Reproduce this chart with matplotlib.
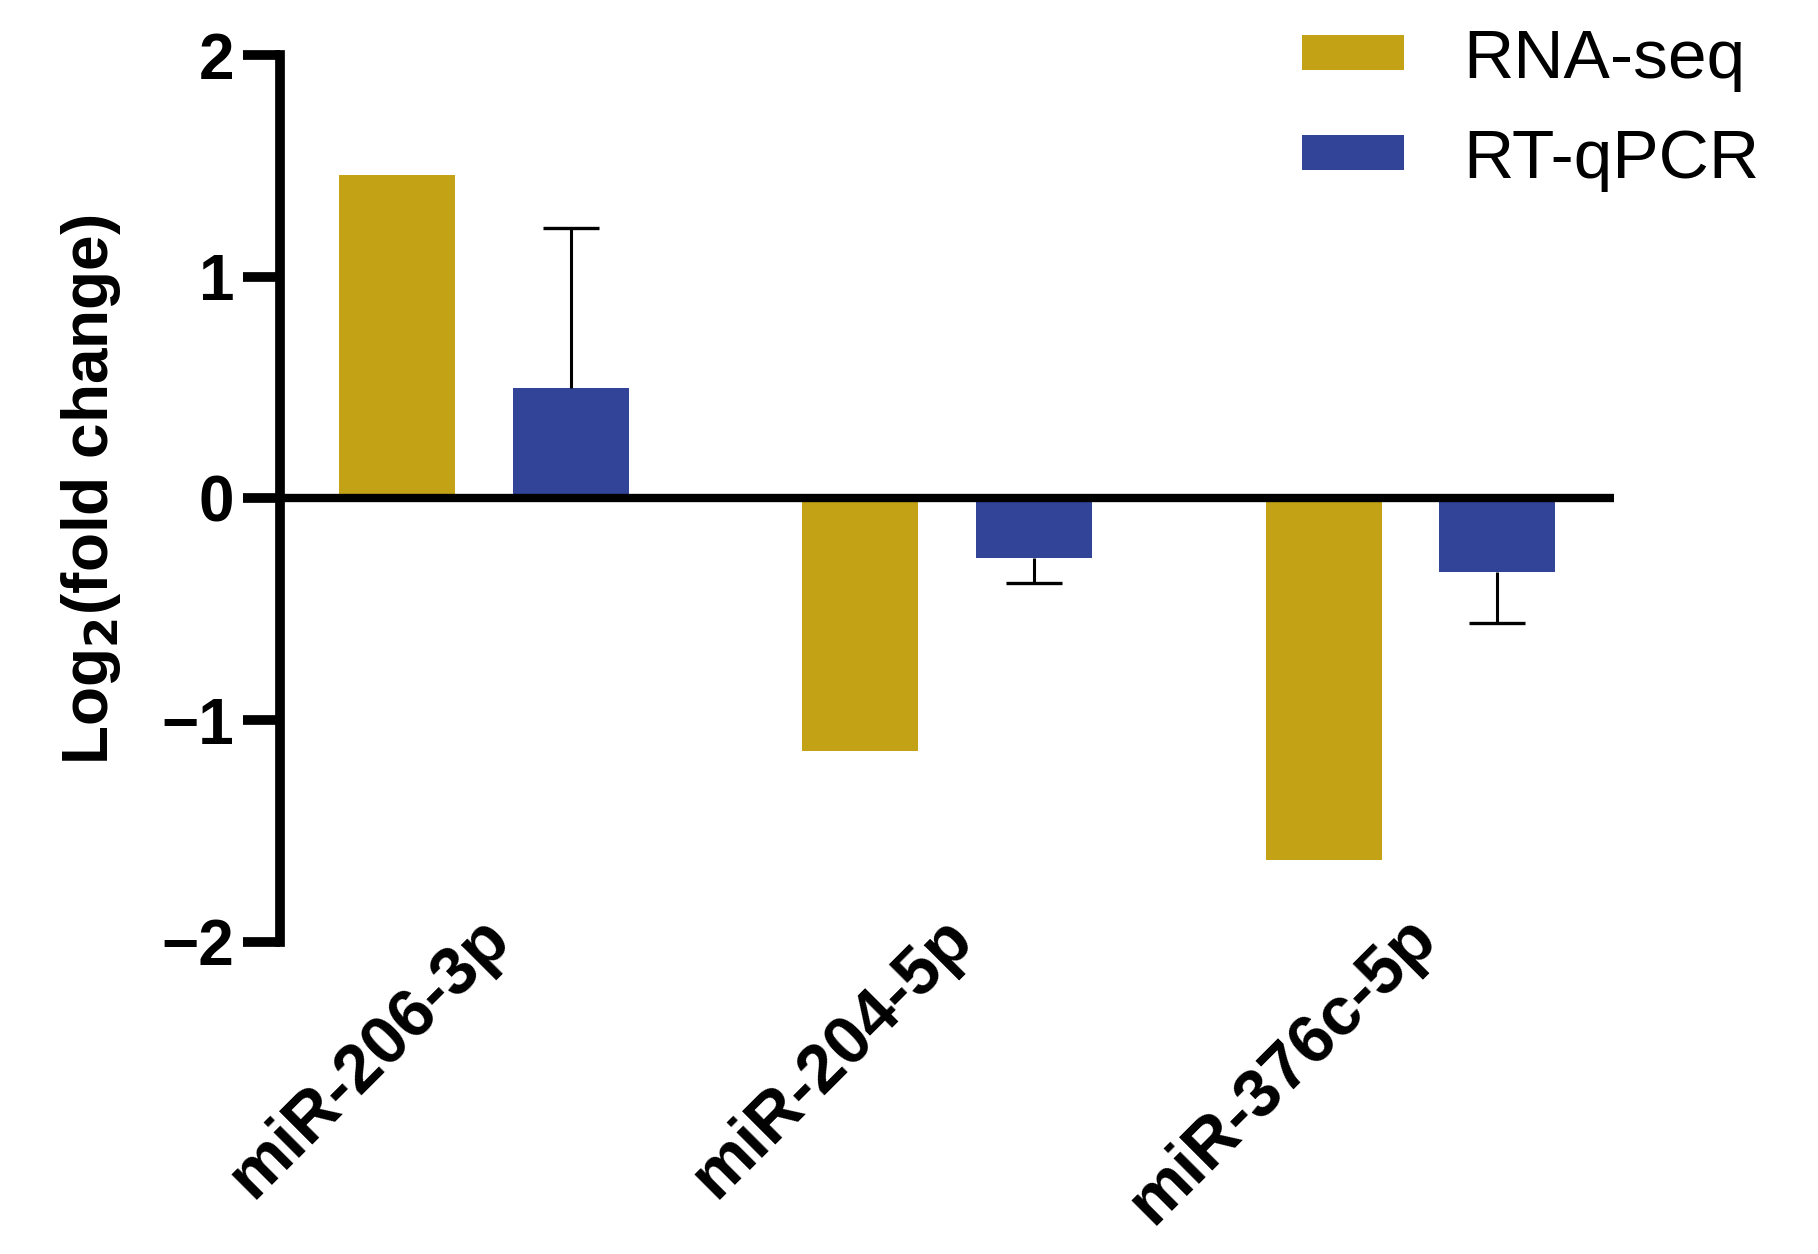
import matplotlib.pyplot as plt
import matplotlib.transforms as mtransforms
import numpy as np

# 数据
genes = ["miR-206-3p", "miR-204-5p", "miR-376c-5p"]
rna_seq = [1.46, -1.14, -1.63]
rt_qpcr = [0.50, -0.27, -0.33]
rt_err = [0.72, 0.11, 0.23]

plt.rcParams["font.family"] = ["Liberation Sans", "DejaVu Sans"]

fig = plt.figure(figsize=(18.18, 12.54), dpi=100)
ax = fig.add_axes([0.154, 0.249, 0.734, 0.707])

x = np.arange(len(genes))
w = 0.25
off = 0.1875
gold = "#C3A215"
blue = "#314498"

ax.bar(x - off, rna_seq, w, color=gold, label="RNA-seq")
ax.bar(x + off, rt_qpcr, w, color=blue, label="RT-qPCR")

# 误差线只画远离0的一侧, 帽子也只在外端
sign = np.sign(rt_qpcr)
ends = np.array(rt_qpcr) + sign * np.array(rt_err)
ax.vlines(x + off, rt_qpcr, ends, color="black", lw=2.2, zorder=2)
ax.plot(x + off, ends, ls="none", marker="_", ms=40, mew=2.4,
        color="black", zorder=2)

ax.axhline(0, color="black", lw=6, zorder=3)

ax.set_xlim(-0.44, 2.44)
ax.set_ylim(-2, 2)
ax.set_yticks([-2, -1, 0, 1, 2])
ax.set_yticklabels(["\u22122", "\u22121", "0", "1", "2"])

for s in ["top", "right", "bottom"]:
    ax.spines[s].set_visible(False)
ax.spines["left"].set_linewidth(7)
ax.tick_params(axis="y", length=27, width=7, labelsize=46, pad=6)
for t in ax.get_yticklabels():
    t.set_fontweight("bold")

ax.set_xticks(x)
ax.set_xticklabels(genes, rotation=45, ha="right", va="center",
                   rotation_mode="anchor", fontsize=49, fontweight="bold")
ax.tick_params(axis="x", length=0, pad=0)
shift = mtransforms.ScaledTranslation(0.15, 0.14, fig.dpi_scale_trans)
for t in ax.get_xticklabels():
    t.set_transform(t.get_transform() + shift)

ax.set_ylabel("Log$_\\mathbf{2}$(fold change)", fontsize=46,
              fontweight="bold")
ax.yaxis.set_label_coords(-0.118, 0.51)

ax.legend(loc="upper left", bbox_to_anchor=(0.716, 0.978),
          bbox_transform=fig.transFigure, frameon=False, fontsize=50,
          handlelength=1.48, handleheight=0.4, handletextpad=0.85,
          labelspacing=0.52, borderpad=0, borderaxespad=0)

plt.savefig("out.png", dpi=100)
